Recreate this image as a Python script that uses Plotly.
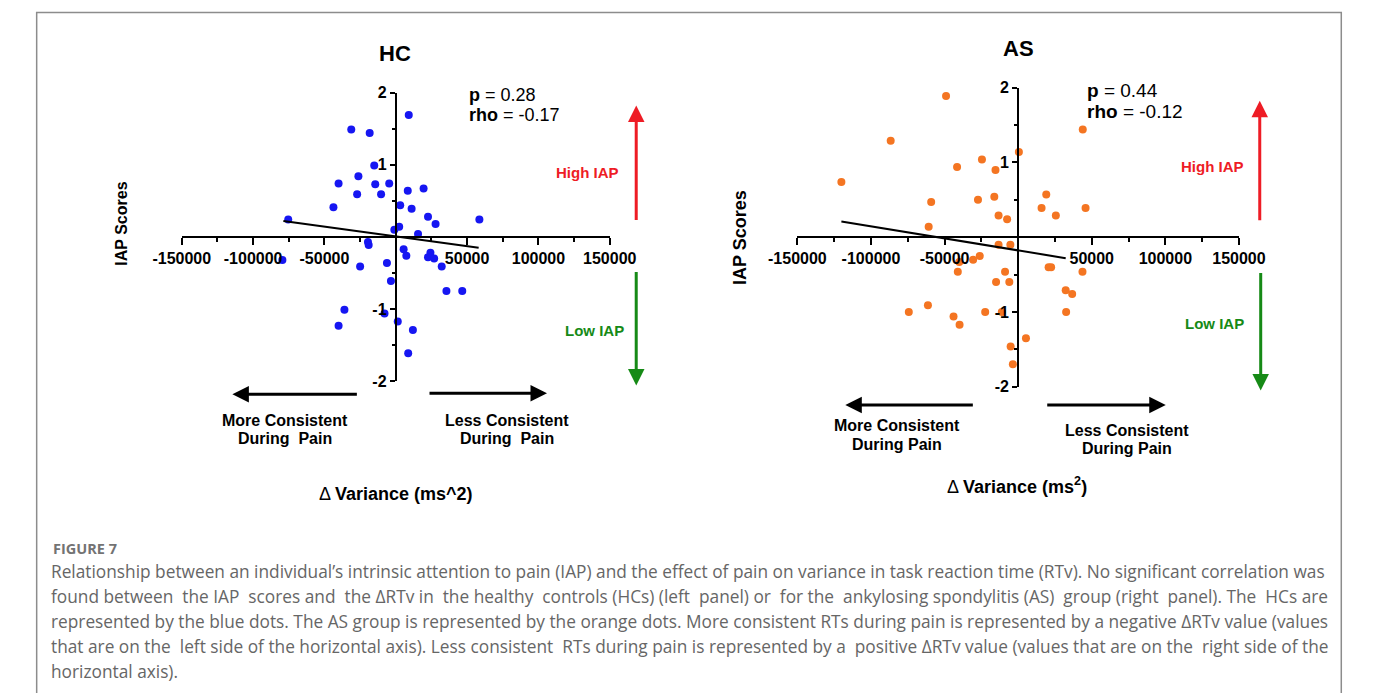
import plotly.graph_objects as go

W, H = 1375, 693

# ---------------- data ----------------
hc_x = [9100, -31200, -18300, -15100, -26200, -40100, -14400, -4600, 8400, 19500,
        -27100, -10300, -43700, 3100, 11100, -75400, 22600, 27900, 58600, 2400,
        -1000, 15600, -19500, -19000, 5500, 7400, 24300, 22600, 26900, -79500,
        -25000, -6200, 32200, -3400, 35500, 46600, -36000, -7900, -40100, 1400,
        12000, 8700]
hc_y = [1.69, 1.49, 1.44, 0.99, 0.84, 0.74, 0.73, 0.74, 0.64, 0.67,
        0.59, 0.59, 0.41, 0.44, 0.39, 0.24, 0.28, 0.18, 0.24, 0.14,
        0.10, 0.04, -0.07, -0.11, -0.17, -0.26, -0.22, -0.28, -0.30, -0.32,
        -0.41, -0.36, -0.41, -0.61, -0.75, -0.75, -1.01, -1.06, -1.23, -1.17,
        -1.29, -1.61]
hc_fit_x = [-78800, 58100]
hc_fit_y = [0.22, -0.15]

as_x = [-49000, -86600, 43900, 500, -24600, -41500, -15400, -120100, -59100, -27300,
        -16200, 19100, 15900, 45800, -13300, -7500, 25600, -60800, -13300, -5300,
        -26100, -30600, -40000, -41000, -8900, 20700, 22400, 43700, -15000, -6000,
        32300, 36700, -74300, -61300, -43900, -39800, -22400, -11100, 32600, 5300,
        -5100, -3600]
as_y = [1.89, 1.29, 1.44, 1.14, 1.04, 0.94, 0.90, 0.74, 0.47, 0.50,
        0.54, 0.57, 0.39, 0.39, 0.29, 0.24, 0.29, 0.14, -0.10, -0.10,
        -0.25, -0.30, -0.33, -0.46, -0.46, -0.40, -0.40, -0.46, -0.60, -0.60,
        -0.71, -0.76, -1.00, -0.91, -1.06, -1.17, -1.00, -1.00, -1.00, -1.35,
        -1.46, -1.70]
as_fit_x = [-120100, 32300]
as_fit_y = [0.21, -0.28]

x_tick_vals = [-150000, -100000, -50000, 50000, 100000, 150000]
x_tick_labels = ["-150000", "-100000", "-50000", "50000", "100000", "150000"]
x_minor_vals = [-125000, -75000, -25000, 25000, 75000, 125000]
y_tick_vals = [-2, -1, 1, 2]
y_tick_labels = ["-2", "-1", "1", "2"]
y_minor_vals = [-1.5, -0.5, 0.5, 1.5]

panel_titles = ["HC", "AS"]
stats_p = ["0.28", "0.44"]
stats_rho = ["-0.17", "-0.12"]

caption_title = "FIGURE 7"
caption_lines = [
    "Relationship between an individual\u2019s intrinsic attention to pain (IAP) and the effect of pain on variance in task reaction time (RTv). No significant correlation was",
    "found between the IAP scores and the \u0394RTv in the healthy controls (HCs) (left panel) or for the ankylosing spondylitis (AS) group (right panel). The HCs are",
    "represented by the blue dots. The AS group is represented by the orange dots. More consistent RTs during pain is represented by a negative \u0394RTv value (values",
    "that are on the left side of the horizontal axis). Less consistent RTs during pain is represented by a positive \u0394RTv value (values that are on the right side of the",
    "horizontal axis).",
]

# ---------------- helpers ----------------
def PX(x):
    return x / W


def PY(y):
    return 1 - y / H


ARIAL = "Arial, Liberation Sans, sans-serif"
BLUE = "#1616f2"
ORANGE = "#f47522"
RED = "#ee1c25"
GREEN = "#168a16"

fig = go.Figure()
fig.add_trace(go.Scatter(x=hc_x, y=hc_y, mode="markers", xaxis="x", yaxis="y",
                         marker=dict(color=BLUE, size=8), hoverinfo="x+y"))
fig.add_trace(go.Scatter(x=hc_fit_x, y=hc_fit_y, mode="lines", xaxis="x", yaxis="y",
                         line=dict(color="black", width=2)))
fig.add_trace(go.Scatter(x=as_x, y=as_y, mode="markers", xaxis="x2", yaxis="y2",
                         marker=dict(color=ORANGE, size=8), hoverinfo="x+y"))
fig.add_trace(go.Scatter(x=as_fit_x, y=as_fit_y, mode="lines", xaxis="x2", yaxis="y2",
                         line=dict(color="black", width=2)))

tickfont = dict(family=ARIAL, size=16, color="black", weight="bold")


def xax(x0, x1, ypos):
    return dict(domain=[PX(x0), PX(x1)], range=[-150000, 150000], anchor="free",
                position=PY(ypos), tickmode="array", tickvals=x_tick_vals,
                ticktext=x_tick_labels, ticks="outside", ticklen=7, tickwidth=2,
                tickcolor="black", tickangle=0,
                minor=dict(tickmode="array", tickvals=x_minor_vals, ticks="outside",
                           ticklen=4, tickwidth=2, tickcolor="black"),
                showline=True, linecolor="black", linewidth=2, showgrid=False,
                zeroline=False, tickfont=tickfont, fixedrange=True)


def yax(y0, y1, xpos):
    return dict(domain=[PY(y1), PY(y0)], range=[-2, 2], anchor="free",
                position=PX(xpos), tickmode="array", tickvals=y_tick_vals,
                ticktext=y_tick_labels, ticks="outside", ticklen=5, tickwidth=2,
                tickcolor="black",
                minor=dict(tickmode="array", tickvals=y_minor_vals, ticks="outside",
                           ticklen=3, tickwidth=2, tickcolor="black"),
                showline=True, linecolor="black", linewidth=2, showgrid=False,
                zeroline=False, tickfont=tickfont, fixedrange=True)


# panel geometry (pixels)
L = dict(x0=159.3, x1=605.4, y0=86.7, y1=382.7)
R = dict(x0=801.0, x1=1261.3, y0=81.7, y1=388.3)

fig.update_layout(
    width=W, height=H, margin=dict(l=0, r=0, t=0, b=0),
    paper_bgcolor="white", plot_bgcolor="white", showlegend=False,
    xaxis=xax(L["x0"], L["x1"], (L["y0"] + L["y1"]) / 2),
    yaxis=yax(L["y0"], L["y1"], (L["x0"] + L["x1"]) / 2),
    xaxis2=xax(R["x0"], R["x1"], (R["y0"] + R["y1"]) / 2),
    yaxis2=yax(R["y0"], R["y1"], (R["x0"] + R["x1"]) / 2),
)

ann = []


def text(x, y, t, size=16, color="black", anchor="center", family=ARIAL,
         weight="normal", angle=0):
    ann.append(dict(x=PX(x), y=PY(y), xref="paper", yref="paper", text=t,
                    showarrow=False, xanchor=anchor, yanchor="middle",
                    textangle=angle,
                    font=dict(family=family, size=size, color=color, weight=weight)))


def arrow(xt, yt, xs, ys, color, width=3):
    ann.append(dict(x=PX(xt), y=PY(yt), xref="paper", yref="paper", text="",
                    showarrow=True, ax=xs - xt, ay=ys - yt, axref="pixel", ayref="pixel",
                    arrowhead=2, arrowsize=1.1, arrowwidth=width, arrowcolor=color,
                    standoff=0, startstandoff=0))


def spread(line, extra):
    """Approximate text justification by adding extra spaces at evenly spread gaps."""
    words = line.split(" ")
    gaps = len(words) - 1
    if extra <= 0 or gaps <= 0:
        return line
    pick = set(int((k + 0.5) * gaps / extra) for k in range(extra))
    out = words[0]
    for g in range(gaps):
        out += ("  " if g in pick else " ") + words[g + 1]
    return out


# titles
text(382, 47, "<b>%s</b>" % panel_titles[0], size=22)
text(1031, 42, "<b>%s</b>" % panel_titles[1], size=22)

# stats
text(457, 89, "<b>p</b> = %s" % stats_p[0], size=18, anchor="left")
text(457, 110, "<b>rho</b> = %s" % stats_rho[0], size=18, anchor="left")
text(1101, 85, "<b>p</b> = %s" % stats_p[1], size=19, anchor="left")
text(1101, 106.5, "<b>rho</b> = %s" % stats_rho[1], size=19, anchor="left")

# y titles
text(97, 221, "<b>IAP Scores</b>", size=16, angle=-90)
text(741, 235, "<b>IAP Scores</b>", size=18, angle=-90)

# High / Low IAP
arrow(633, 100, 633, 216, RED)
arrow(633, 387, 633, 272, GREEN)
text(582, 169, "<b>High IAP</b>", size=15, color=RED)
text(590, 331, "<b>Low IAP</b>", size=15, color=GREEN)
arrow(1283, 95, 1283, 216, RED)
arrow(1284, 392, 1284, 273, GREEN)
text(1234, 162, "<b>High IAP</b>", size=15, color=RED)
text(1236, 323, "<b>Low IAP</b>", size=15, color=GREEN)

# consistency arrows and labels
arrow(212, 396, 338, 396, "black")
arrow(540, 395, 421, 395, "black")
text(267, 423, "<b>More Consistent</b>", size=16)
text(267, 441, "<b>During  Pain</b>", size=16)
text(498, 423, "<b>Less Consistent</b>", size=16)
text(498, 441, "<b>During  Pain</b>", size=16)

arrow(851, 407, 980, 407, "black")
arrow(1185, 407, 1065, 407, "black")
text(905, 428, "<b>More Consistent</b>", size=16)
text(905, 447, "<b>During Pain</b>", size=16)
text(1145, 433, "<b>Less Consistent</b>", size=16)
text(1145, 452, "<b>During Pain</b>", size=16)

# x titles
text(383, 498, "\u0394 <b>Variance (ms^2)</b>", size=18)
text(1030, 490, "\u0394 <b>Variance (ms<sup>2</sup>)</b>", size=18)

# caption
CAP = "Open Sans, Lato, sans-serif"
text(23, 554, caption_title, size=14.5, color="#737373", anchor="left", family=CAP,
     weight="bold")
extra_spaces = [0, 11, 0, 4, 0]
for i, line in enumerate(caption_lines):
    text(21, 578 + i * 25.5, spread(line, extra_spaces[i]), size=17.3, color="#666666",
         anchor="left", family=CAP)

fig.update_layout(annotations=ann)

# frame
fig.add_shape(type="rect", xref="paper", yref="paper", x0=PX(8), x1=PX(1368),
              y0=PY(720), y1=PY(4.5), line=dict(color="#8c8c8c", width=1.5),
              fillcolor="rgba(0,0,0,0)", layer="below")

fig.write_html("out.html")
